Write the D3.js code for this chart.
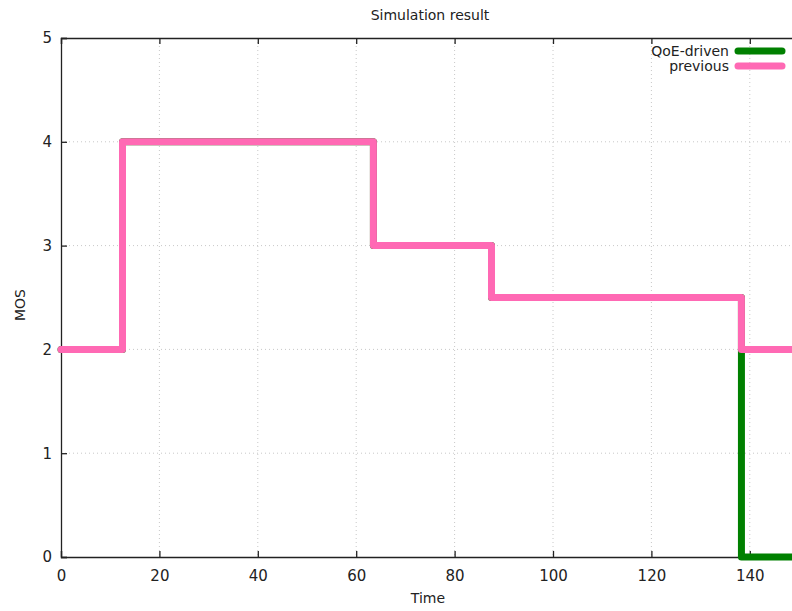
<!DOCTYPE html>
<html lang="en">
<head>
  <meta charset="UTF-8">
  <title>Simulation result</title>
  <style>
    body { margin: 0; background: #fff; }
    text { font-family: "DejaVu Sans", sans-serif; fill: #222; }
  </style>
</head>
<body>
  <svg width="792" height="611"></svg>
  <script src="https://cdn.jsdelivr.net/npm/d3@7/dist/d3.min.js"></script>
  <script>
    // data (step plots)
    var seriesNames = ["QoE-driven", "previous"]
    var seriesColors = ["#008000", "#ff69b4"]
    var timeQoe = [0, 12.5, 63.5, 87.5, 138.3, 150]
    var mosQoe = [2, 4, 3, 2.5, 0, 0]
    var timePrev = [0, 12.5, 63.5, 87.5, 138.3, 150]
    var mosPrev = [2, 4, 3, 2.5, 2, 2]
    var xTicks = [0, 20, 40, 60, 80, 100, 120, 140]
    var yTicks = [0, 1, 2, 3, 4, 5]

    var svg = d3.select("svg")
    // plot box (window.top is reserved, so other names)
    var plotL = 61, plotT = 38, plotB = 557, plotR = 799

    var x = d3.scaleLinear().domain([0, 150]).range([plotL, plotR])
    var y = d3.scaleLinear().domain([0, 5]).range([plotB, plotT])

    var g = svg.append("g")

    // grid
    g.append("g").selectAll("line")
      .data(xTicks.filter(d => d > 0))
      .enter().append("line")
      .attr("x1", d => x(d)).attr("x2", d => x(d))
      .attr("y1", plotT).attr("y2", plotB)
      .attr("stroke", "#c8c8c8").attr("stroke-dasharray", "1,3")
    g.append("g").selectAll("line")
      .data(yTicks.filter(d => d > 0 && d < 5))
      .enter().append("line")
      .attr("x1", plotL).attr("x2", plotR)
      .attr("y1", d => y(d)).attr("y2", d => y(d))
      .attr("stroke", "#c8c8c8").attr("stroke-dasharray", "1,3")

    // axes (gnuplot style, ticks inside)
    var xAxis = g.append("g").attr("transform", "translate(0," + plotB + ")")
      .call(d3.axisBottom(x).tickValues(xTicks).tickSize(-6).tickPadding(13))
    var xTop = g.append("g").attr("transform", "translate(0," + plotT + ")")
      .call(d3.axisTop(x).tickValues(xTicks).tickSize(-6).tickFormat(""))
    var yAxis = g.append("g").attr("transform", "translate(" + plotL + ",0)")
      .call(d3.axisLeft(y).tickValues(yTicks).tickFormat(d3.format("d")).tickSize(-6).tickPadding(9))
    ;[xAxis, xTop, yAxis].forEach(a => {
      a.select(".domain").attr("stroke", "#222").attr("stroke-width", 1.3)
      a.selectAll(".tick line").attr("stroke", "#222").attr("stroke-width", 1.3)
      a.selectAll("text").style("font-family", "DejaVu Sans").style("font-size", "15px").attr("fill", "#222")
    })

    // series
    var line = d3.line()
      .x(d => x(d[0])).y(d => y(d[1]))
      .curve(d3.curveStepAfter)
    var data = [
      d3.zip(timeQoe, mosQoe),
      d3.zip(timePrev, mosPrev)
    ]
    g.append("g").selectAll("path")
      .data(data)
      .enter().append("path")
      .attr("d", line)
      .attr("fill", "none")
      .attr("stroke", (d, i) => seriesColors[i])
      .attr("stroke-width", 7)
      .attr("stroke-linejoin", "round")
      .attr("stroke-linecap", "round")

    // legend
    var leg = g.append("g").selectAll("g")
      .data(seriesNames)
      .enter().append("g")
      .attr("transform", (d, i) => "translate(0," + (51 + i * 15) + ")")
    leg.append("text")
      .attr("x", 729).attr("y", 5)
      .attr("text-anchor", "end")
      .style("font-size", "14px")
      .text(d => d)
    leg.append("line")
      .attr("x1", 738).attr("x2", 782)
      .attr("stroke", (d, i) => seriesColors[i])
      .attr("stroke-width", 7)
      .attr("stroke-linecap", "round")

    // titles
    svg.append("text")
      .attr("x", 430).attr("y", 20)
      .attr("text-anchor", "middle")
      .style("font-size", "14px")
      .text("Simulation result")
    svg.append("text")
      .attr("x", 428).attr("y", 603)
      .attr("text-anchor", "middle")
      .style("font-size", "14px")
      .text("Time")
    svg.append("text")
      .attr("transform", "translate(25,305) rotate(-90)")
      .attr("text-anchor", "middle")
      .style("font-size", "14px")
      .text("MOS")
  </script>
</body>
</html>
